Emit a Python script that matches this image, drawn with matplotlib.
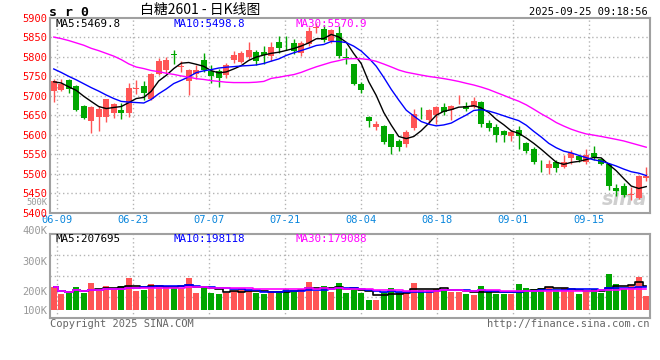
import matplotlib
matplotlib.use('Agg')
import matplotlib.pyplot as plt
import numpy as np
import pandas as pd

# trading days shown, 06-06 .. 09-25
dates = pd.bdate_range('2025-06-06', '2025-09-25').strftime('%m-%d').tolist()
tick_labels = ['06-09', '06-23', '07-07', '07-21', '08-04', '08-18', '09-01', '09-15']

opens = [5712, 5714, 5740, 5725, 5675, 5634, 5646, 5646, 5657, 5664,
         5656, 5718, 5725, 5693, 5757, 5767, 5808, 5774, 5739, 5756,
         5792, 5764, 5764, 5754, 5791, 5788, 5800, 5812, 5813, 5802,
         5839, 5841, 5835, 5809, 5832, 5874, 5873, 5840, 5862, 5800,
         5781, 5731, 5645, 5619, 5622, 5601, 5583, 5577, 5616, 5657,
         5639, 5650, 5671, 5663, 5686, 5675, 5671, 5683, 5630, 5621,
         5610, 5597, 5611, 5578, 5564, 5523, 5514, 5531, 5518, 5540,
         5544, 5529, 5554, 5538, 5525, 5463, 5469, 5446, 5438, 5488]
highs = [5743, 5744, 5742, 5727, 5676, 5675, 5675, 5693, 5682, 5681,
         5733, 5740, 5738, 5759, 5798, 5800, 5819, 5790, 5770, 5779,
         5810, 5780, 5770, 5785, 5815, 5815, 5838, 5818, 5827, 5838,
         5853, 5853, 5845, 5842, 5877, 5886, 5882, 5872, 5879, 5822,
         5782, 5736, 5648, 5634, 5625, 5603, 5590, 5611, 5667, 5670,
         5665, 5673, 5681, 5677, 5701, 5684, 5697, 5686, 5637, 5627,
         5613, 5611, 5622, 5581, 5568, 5534, 5536, 5536, 5547, 5560,
         5547, 5562, 5570, 5541, 5527, 5473, 5475, 5465, 5497, 5516]
lows = [5685, 5712, 5707, 5660, 5641, 5604, 5609, 5633, 5644, 5641,
        5646, 5704, 5690, 5688, 5753, 5759, 5783, 5761, 5703, 5744,
        5762, 5732, 5723, 5746, 5785, 5784, 5795, 5780, 5782, 5790,
        5810, 5818, 5808, 5803, 5828, 5862, 5838, 5835, 5798, 5781,
        5727, 5708, 5620, 5613, 5577, 5550, 5558, 5568, 5613, 5641,
        5628, 5627, 5650, 5637, 5678, 5661, 5669, 5620, 5609, 5581,
        5581, 5585, 5562, 5553, 5525, 5504, 5498, 5504, 5514, 5525,
        5529, 5525, 5536, 5523, 5458, 5443, 5439, 5432, 5435, 5482]
closes = [5737, 5731, 5718, 5664, 5644, 5670, 5666, 5692, 5678, 5656,
          5720, 5719, 5706, 5757, 5789, 5792, 5806, 5775, 5766, 5766,
          5766, 5750, 5747, 5778, 5804, 5809, 5817, 5790, 5804, 5826,
          5823, 5840, 5815, 5836, 5866, 5876, 5843, 5868, 5803, 5798,
          5731, 5714, 5634, 5627, 5580, 5568, 5568, 5607, 5654, 5655,
          5663, 5671, 5658, 5675, 5687, 5667, 5686, 5628, 5618, 5598,
          5598, 5607, 5597, 5558, 5529, 5521, 5524, 5514, 5531, 5554,
          5534, 5547, 5542, 5525, 5469, 5454, 5446, 5446, 5494, 5493]
volumes = [212, 189, 191, 212, 191, 227, 200, 216, 209, 216,
           242, 200, 202, 222, 219, 216, 208, 210, 242, 193,
           212, 193, 189, 193, 200, 206, 200, 193, 189, 198,
           200, 206, 200, 206, 229, 200, 216, 197, 227, 193,
           206, 193, 169, 169, 197, 209, 197, 197, 227, 202,
           202, 206, 202, 197, 197, 189, 186, 216, 197, 189,
           189, 189, 222, 209, 206, 209, 212, 202, 209, 202,
           189, 197, 206, 193, 256, 222, 206, 219, 246, 183]

# moving-average values before a full window exists
ma5_head = [5736, 5733, 5723, 5714]
ma10_head = [5769, 5760, 5750, 5741, 5731, 5721, 5712, 5702, 5693]
ma30_head = [5851, 5847, 5842, 5836, 5830, 5822, 5816, 5809, 5802, 5793,
             5782, 5774, 5770, 5765, 5762, 5758, 5755, 5751, 5748, 5744,
             5742, 5739, 5737, 5735, 5734, 5734, 5734, 5735, 5737]
price_ma_last = [5469.8, 5498.8, 5570.9]
vol_ma_last = [207695, 198118, 179088]

RED = '#ff5555'
GREEN = '#00a600'
MA_COLORS = ['black', '#0000ff', '#ff00ff']
GRID = '#b4b4b4'
FRAME = '#a0a0a0'
MONO = 'DejaVu Sans Mono'


def moving_avg(values, n, head):
    s = pd.Series(values, dtype=float).rolling(n).mean()
    s.iloc[:n - 1] = head
    return s.to_numpy()


x = np.arange(len(dates))
o = np.array(opens, float)
c = np.array(closes, float)
up = c >= o
colors = np.where(up, RED, GREEN)
vol = np.array(volumes, float) * 1000

price_mas = [moving_avg(closes, 5, ma5_head),
             moving_avg(closes, 10, ma10_head),
             moving_avg(closes, 30, ma30_head)]
vol_mas = [pd.Series(vol).rolling(n, min_periods=1).mean().to_numpy() for n in (5, 10, 30)]

# gridline positions follow the labels (spaced slightly wider than candles)
tick_pos = [0.47 + (dates.index(t) - 1) * 1.013 for t in tick_labels]

W, H = 660, 360
fig = plt.figure(figsize=(6.6, 3.6), dpi=100)


def px(xp, yp):
    return xp / W, 1 - yp / H


ax = fig.add_axes([50 / W, 1 - 212.5 / H, 600 / W, 194.5 / H])
vax = fig.add_axes([50 / W, 1 - 318 / H, 600 / W, 84 / H])

for a in (ax, vax):
    a.set_xlim(-0.5, len(dates) - 0.5)
    for s in a.spines.values():
        s.set_color(FRAME)
        s.set_linewidth(1.5)
    a.tick_params(length=0)
    for t in tick_pos:
        a.axvline(t, color=GRID, lw=1, ls=(0, (1, 2)), zorder=0)

# price panel
ax.set_ylim(5400, 5900)
for lvl in range(5450, 5900, 50):
    ax.axhline(lvl, color=GRID, lw=1, ls=(0, (1, 2)), zorder=0)
ax.vlines(x, lows, highs, colors=colors, lw=1, zorder=1)
body = np.maximum(np.abs(c - o), 1.5)
ax.bar(x, body, bottom=np.minimum(o, c), width=0.76, color=colors, zorder=2)
for ma, col in zip(price_mas, MA_COLORS):
    ax.plot(x, ma, color=col, lw=1, zorder=3)

ax.set_yticks(range(5400, 5901, 50))
ax.set_yticklabels([str(v) for v in range(5400, 5901, 50)], color='#ff0000',
                   fontsize=7.5, fontfamily=MONO)
ax.tick_params(axis='y', pad=2)
ax.set_xticks(tick_pos)
ax.set_xticklabels(tick_labels, color='#0a86dc', fontsize=7.5, fontfamily=MONO)
ax.tick_params(axis='x', pad=2)
ax.text(0.995, 0.02, 'sina', transform=ax.transAxes, ha='right', va='bottom',
        fontsize=14, style='italic', weight='bold', color='#cfcfcf', zorder=0.5)

# volume panel
vlo, vhi = 109000, 389000
base = 134700
vax.set_ylim(vlo, vhi)
for f in (0.25, 0.5, 0.75):
    vax.axhline(vlo + (vhi - vlo) * f, color=GRID, lw=1, ls=(0, (1, 2)), zorder=0)
vax.bar(x, vol - base, bottom=base, width=0.78, color=colors, zorder=2)
for ma, col in zip(vol_mas, MA_COLORS):
    vax.plot(x, ma, color=col, lw=1.2, drawstyle='steps-mid', zorder=3)
vax.set_xticks([])
vax.set_yticks([base, 200000, 300000])
vax.set_yticklabels(['100K', '200K', '300K'], color='#999999', fontsize=7.5, fontfamily=MONO)
vax.tick_params(axis='y', pad=2)
vax.text(-0.005, 400000, '400K', transform=vax.get_yaxis_transform(), ha='right',
         va='center', color='#999999', fontsize=7.5, fontfamily=MONO, clip_on=False)
fig.text(*px(47, 202.5), '500K', ha='right', va='center', color='#999999',
         fontsize=6.3, fontfamily=MONO)

# header / legend texts
names = ['MA5', 'MA10', 'MA30']
for xp, nm, val, col in zip((55, 174, 295), names, price_ma_last, MA_COLORS):
    fig.text(*px(xp, 24), f'{nm}:{val:.1f}', color=col, fontsize=7.8,
             fontfamily=MONO, va='center')
for xp, nm, val, col in zip((55, 174, 295), names, vol_ma_last, MA_COLORS):
    fig.text(*px(xp, 239), f'{nm}:{val}', color=col, fontsize=7.8,
             fontfamily=MONO, va='center')

fig.text(*px(49, 12), 's r 0', fontsize=9.5, weight='bold', fontfamily=MONO, va='center')
fig.text(*px(200, 10), '白糖2601 - 日K线图', fontsize=10, ha='center', va='center',
         family=['Noto Sans CJK SC', 'DejaVu Sans'])
fig.text(*px(648, 12), '2025-09-25 09:18:56', fontsize=7.5, ha='right', va='center',
         fontfamily=MONO)
fig.text(*px(50, 324), 'Copyright 2025 SINA.COM', fontsize=7.5, va='center',
         color='#666666', fontfamily=MONO)
fig.text(*px(649, 324), 'http://finance.sina.com.cn', fontsize=7.5, ha='right',
         va='center', color='#666666', fontfamily=MONO)

fig.savefig('out.png', dpi=100)
